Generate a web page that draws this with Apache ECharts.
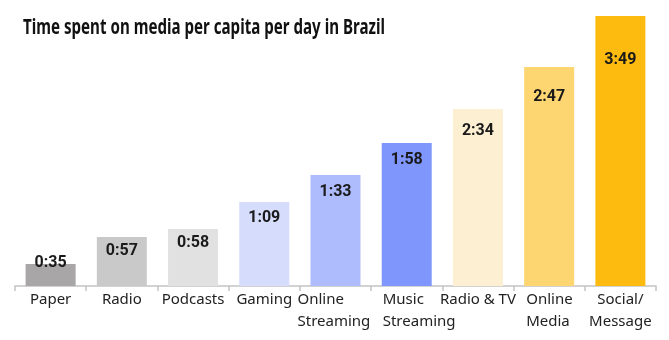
<!DOCTYPE html>
<html>
<head>
<meta charset="utf-8">
<script src="https://cdn.jsdelivr.net/npm/echarts@6/dist/echarts.min.js"></script>
<style>
html,body{margin:0;padding:0;background:#fff;}
#chart{width:669px;height:340px;}
</style>
</head>
<body>
<div id="chart"></div>
<script>
// Categories (axis labels)
const categories = ['Paper', 'Radio', 'Podcasts', 'Gaming', 'Online\nStreaming', 'Music\nStreaming', 'Radio & TV', 'Online\nMedia', 'Social/\nMessage'];
// Displayed time per day (h:mm)
const timeLabels = ['0:35', '0:57', '0:58', '1:09', '1:33', '1:58', '2:34', '2:47', '3:49'];
// Bar lengths as drawn in the picture (relative units; the source chart is not to scale)
const barLengths = [22, 49, 57, 84, 111, 143, 177, 219, 270];
// Bar colours
const barColors = ['#a8a6a6', '#c9c9c9', '#e1e1e1', '#d5dcfc', '#aebbfc', '#7f96fc', '#fdefd2', '#fdd671', '#fdba0f'];
// Label vertical offsets below bar top (styling)
const labelOffsets = [-9.5, 5.5, 5.5, 7.5, 8.5, 8.5, 13.5, 21.5, 35.5];
// Per-category axis label rich style name (styling)
const labelStyles = [null, null, null, null, 's', 'm', null, 'o', null];

const chart = echarts.init(document.getElementById('chart'), null, {renderer: 'canvas'});

const axisData = categories.map((c, i) => {
  const st = labelStyles[i];
  if (st) {
    return {value: c.split('\n').map(l => '{' + st + '|' + l + '}').join('\n')};
  }
  return {value: c};
});

const FONT = '"Noto Sans", sans-serif';
const baseRich = {fontFamily: FONT, fontSize: 15, lineHeight: 22, color: '#222222', align: 'left'};

const option = {
  animation: false,
  backgroundColor: '#ffffff',
  graphic: [{
    type: 'text',
    x: 23,
    y: 18,
    scaleX: 0.72,
    scaleY: 1,
    style: {
      text: 'Time spent on media per capita per day in Brazil',
      fontFamily: FONT,
      fontWeight: 'bold',
      fontSize: 21,
      fill: '#111111',
      textVerticalAlign: 'top'
    }
  }],
  grid: {left: 15, right: 13, top: 16, bottom: 54, containLabel: false},
  xAxis: {
    type: 'category',
    data: axisData,
    axisLine: {show: true, lineStyle: {color: '#c4c4c4', width: 1.5}},
    axisTick: {show: true, length: 5, lineStyle: {color: '#c4c4c4', width: 1.5}},
    axisLabel: {
      interval: 0,
      margin: 3,
      fontFamily: FONT,
      fontSize: 15,
      lineHeight: 22,
      color: '#222222',
      rich: {
        s: Object.assign({}, baseRich, {width: 76}),
        m: Object.assign({}, baseRich, {width: 76, padding: [0, 0, 0, 28]}),
        o: Object.assign({}, baseRich, {width: 46})
      }
    }
  },
  yAxis: {
    type: 'value',
    min: 0,
    max: 270,
    show: false,
    splitLine: {show: false}
  },
  series: [{
    type: 'bar',
    barWidth: 50,
    data: barLengths.map((v, i) => ({
      value: v,
      itemStyle: {color: barColors[i]},
      label: {offset: [0, labelOffsets[i]]}
    })),
    label: {
      show: true,
      position: 'insideTop',
      distance: 0,
      fontFamily: 'Roboto, "Noto Sans", sans-serif',
      fontWeight: 'bold',
      fontSize: 16,
      color: '#1a1a1a',
      formatter: p => timeLabels[p.dataIndex]
    }
  }]
};
chart.setOption(option);
</script>
</body>
</html>
